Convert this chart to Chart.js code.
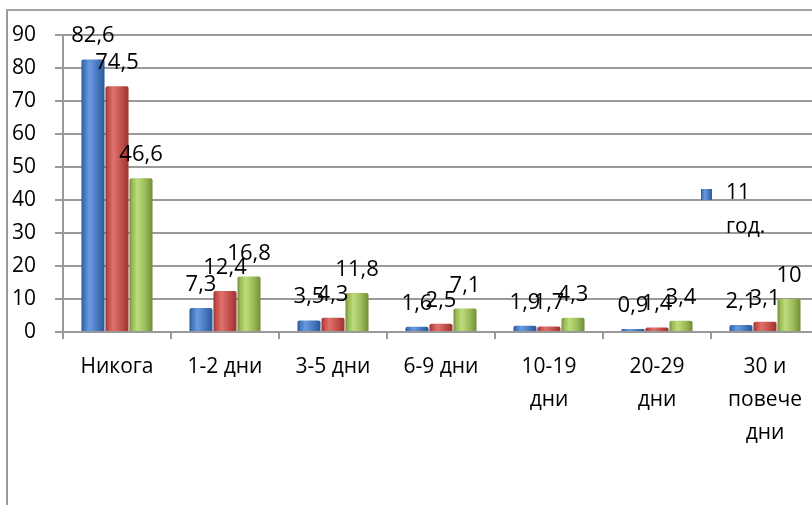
<!DOCTYPE html>
<html>
<head>
<meta charset="utf-8">
<script src="https://cdn.jsdelivr.net/npm/chart.js@4/dist/chart.umd.min.js"></script>
<style>
  html, body { margin: 0; padding: 0; background: #fff; overflow: hidden; width: 812px; height: 505px; }
  #wrap { position: absolute; left: 0; top: 0; width: 840px; height: 505px; }
  #frame { position: absolute; left: 6px; top: 9px; width: 900px; height: 600px; border-left: 2px solid #9a9a9a; border-top: 2px solid #a6a6a6; box-sizing: border-box; }
  canvas { position: absolute; left: 0; top: 0; }
</style>
</head>
<body>
<div id="frame"></div>
<div id="wrap"><canvas id="c" width="840" height="505"></canvas></div>
<script>
const categories = ["Никога", "1-2 дни", "3-5 дни", "6-9 дни", ["10-19", "дни"], ["20-29", "дни"], ["30 и", "повече", "дни"]];
const seriesNames = ["11 год.", "13 год.", "15 год."];
const age11 = [82.6, 7.3, 3.5, 1.6, 1.9, 0.9, 2.1];
const age13 = [74.5, 12.4, 4.3, 2.5, 1.7, 1.4, 3.1];
const age15 = [46.6, 16.8, 11.8, 7.1, 4.3, 3.4, 10];
const yTicks = [0, 10, 20, 30, 40, 50, 60, 70, 80, 90];
const legendLines = ["11", "год."];

const palettes = [
  { edge: "#2d5896", mid: "#4577bd", light: "#6a9be0" },
  { edge: "#9a3330", mid: "#c24e4a", light: "#e0726c" },
  { edge: "#718e38", mid: "#9aba57", light: "#bddc7b" }
];

function barGradient(ctx, x0, x1, p) {
  const g = ctx.createLinearGradient(x0, 0, x1, 0);
  g.addColorStop(0, p.edge);
  g.addColorStop(0.12, p.mid);
  g.addColorStop(0.35, p.light);
  g.addColorStop(0.7, p.mid);
  g.addColorStop(1, p.edge);
  return g;
}

const fmt = v => String(v).replace('.', ',');

const decor = {
  id: 'decor',
  beforeDatasetsDraw(chart) {
    const ctx = chart.ctx;
    chart.data.datasets.forEach((ds, di) => {
      const meta = chart.getDatasetMeta(di);
      meta.data.forEach(bar => {
        const w = bar.width;
        bar.options = Object.assign({}, bar.options, {
          backgroundColor: barGradient(ctx, bar.x - w / 2, bar.x + w / 2, palettes[di])
        });
      });
    });
  },
  afterDatasetsDraw(chart) {
    const ctx = chart.ctx;
    ctx.save();
    ctx.fillStyle = '#000';
    ctx.font = '22px "Open Sans"';
    ctx.textAlign = 'center';
    ctx.textBaseline = 'alphabetic';
    chart.data.datasets.forEach((ds, di) => {
      const meta = chart.getDatasetMeta(di);
      meta.data.forEach((bar, i) => {
        ctx.fillText(fmt(ds.data[i]), bar.x, bar.y - 17);
      });
    });
    // legend (only first entry visible)
    ctx.fillStyle = barGradient(ctx, 701, 712, palettes[0]);
    ctx.fillRect(701, 189, 11, 11);
    ctx.fillStyle = '#000';
    ctx.textAlign = 'left';
    ctx.font = '21px "Open Sans"';
    ctx.fillText(legendLines[0], 726, 199);
    ctx.fillText(legendLines[1], 726, 233);
    ctx.restore();
  }
};

new Chart(document.getElementById('c'), {
  type: 'bar',
  data: {
    labels: categories,
    datasets: [
      { label: seriesNames[0], data: age11, backgroundColor: palettes[0].mid },
      { label: seriesNames[1], data: age13, backgroundColor: palettes[1].mid },
      { label: seriesNames[2], data: age15, backgroundColor: palettes[2].mid }
    ]
  },
  options: {
    responsive: false,
    animation: false,
    layout: { padding: { top: 35, right: 21, bottom: 0, left: 0 } },
    datasets: { bar: { categoryPercentage: 0.667, barPercentage: 0.96, borderRadius: { topLeft: 2, topRight: 2 } } },
    plugins: { legend: { display: false }, tooltip: { enabled: false } },
    scales: {
      x: {
        offset: true,
        grid: { drawOnChartArea: false, drawTicks: true, tickLength: 7, color: '#9a9a9a', lineWidth: 2 },
        border: { display: true, color: '#9a9a9a', width: 2 },
        ticks: { color: '#000', font: { family: 'Open Sans', size: 21, lineHeight: 1.57 }, padding: 12, maxRotation: 0, autoSkip: false },
        afterFit(scale) { scale.height = 173; }
      },
      y: {
        min: 0, max: 90,
        afterBuildTicks(scale) { scale.ticks = yTicks.map(v => ({ value: v })); },
        grid: { color: '#9a9a9a', lineWidth: 2, drawTicks: true, tickLength: 8 },
        border: { display: true, color: '#9a9a9a', width: 2 },
        ticks: { color: '#000', font: { family: 'Open Sans', size: 21 }, padding: 19 },
        afterFit(scale) { scale.width = 63; }
      }
    }
  },
  plugins: [decor]
});
</script>
</body>
</html>
